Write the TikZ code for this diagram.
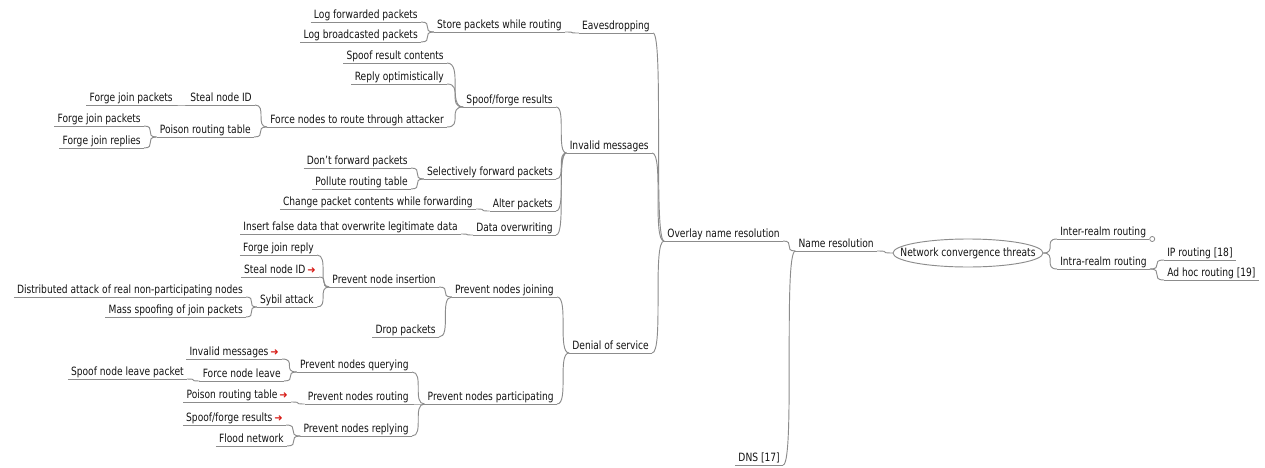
\documentclass[tikz,border=0pt]{standalone}
\usepackage{fontspec}
\setmainfont[FakeStretch=0.8]{DejaVu Sans}
\newfontfamily\arrowfont{DejaVu Sans}
\definecolor{edgegray}{RGB}{140,140,140}
\definecolor{txt}{RGB}{20,20,20}
\definecolor{linkred}{RGB}{215,25,20}
\newcommand{\lnk}{\,{\arrowfont\fontsize{7.5pt}{8pt}\selectfont\textcolor{linkred}{➜}}}
\tikzset{
  mm/.style={font=\fontsize{8.55pt}{10pt}\selectfont, text=txt, inner xsep=2.25pt, inner ysep=0pt, text height=6.5pt, text depth=2.6pt},
  ln/.style={mm, anchor=south east},
  rn/.style={mm, anchor=south west},
  edge/.style={draw=edgegray, line width=0.7pt},
  fm/.style={to path={.. controls (\tikztotarget |- \tikztostart) and (\tikztostart |- \tikztotarget) .. (\tikztotarget)}},
}
\begin{document}
\begin{tikzpicture}[x=0.75pt, y=-0.75pt]
\useasboundingbox[fill=white] (0,0) rectangle (1265,468);
% root
\node[font=\fontsize{8.55pt}{10pt}\selectfont, text=txt, minimum width=112.5pt, minimum height=21pt, inner sep=0pt] (root) at (968,253) {Network convergence threats};
\draw[edge] (root.center) ellipse [x radius=75, y radius=14];
% right side
\node[rn] (inter) at (1057,239) {Inter-realm routing};
\node[rn] (intra) at (1057,269) {Intra-realm routing};
\node[rn] (ip) at (1164,260) {IP routing [18]};
\node[rn] (adhoc) at (1164,280) {Ad hoc routing [19]};
\node[circle, draw=edgegray, fill=white, line width=0.6pt, inner sep=0pt, minimum size=3.8pt, anchor=west] (fold) at (inter.south east) {};
% left side
\node[ln] (nameres) at (877,251) {Name resolution};
\node[ln] (overlay) at (783,241) {Overlay name resolution};
\node[ln] (dns) at (783,465) {DNS [17]};
\node[ln] (eaves) at (653,33) {Eavesdropping};
\node[ln] (invalid) at (652,153) {Invalid messages};
\node[ln] (dos) at (652,353) {Denial of service};
\node[ln] (store) at (565,32) {Store packets while routing};
\node[ln] (logfwd) at (421,22) {Log forwarded packets};
\node[ln] (logbc) at (421,42) {Log broadcasted packets};
\node[ln] (spoof) at (556,107) {Spoof/forge results};
\node[ln] (spoofres) at (447,63) {Spoof result contents};
\node[ln] (reply) at (447,84) {Reply optimistically};
\node[ln] (force) at (447,127) {Force nodes to route through attacker};
\node[ln] (steal1) at (255,105) {Steal node ID};
\node[ln] (forge1) at (176,105) {Forge join packets};
\node[ln] (poison1) at (254,137) {Poison routing table};
\node[ln] (forge2) at (144,126) {Forge join packets};
\node[ln] (forgerep) at (144,148) {Forge join replies};
\node[ln] (selfwd) at (556,179) {Selectively forward packets};
\node[ln] (dontfwd) at (411,168) {Don't forward packets};
\node[ln] (pollute) at (411,189) {Pollute routing table};
\node[ln] (alter) at (556,211) {Alter packets};
\node[ln] (change) at (476,209) {Change packet contents while forwarding};
\node[ln] (dataover) at (556,235) {Data overwriting};
\node[ln] (insert) at (461,234) {Insert false data that overwrite legitimate data};
\node[ln] (join) at (557,297) {Prevent nodes joining};
\node[ln] (insertion) at (439,287) {Prevent node insertion};
\node[ln] (forgereply) at (317,255) {Forge join reply};
\node[ln] (steal2) at (319,277) {Steal node ID\lnk};
\node[ln] (sybil) at (317,307) {Sybil attack};
\node[ln] (distrib) at (246,297) {Distributed attack of real non-participating nodes};
\node[ln] (mass) at (246,317) {Mass spoofing of join packets};
\node[ln] (drop) at (439,337) {Drop packets};
\node[ln] (particip) at (557,404) {Prevent nodes participating};
\node[ln] (querying) at (412,372) {Prevent nodes querying};
\node[ln] (invmsg2) at (282,359) {Invalid messages\lnk};
\node[ln] (forceleave) at (284,381) {Force node leave};
\node[ln] (spoofleave) at (187,379) {Spoof node leave packet};
\node[ln] (routing) at (412,404) {Prevent nodes routing};
\node[ln] (poison2) at (291,402) {Poison routing table\lnk};
\node[ln] (replying) at (412,436) {Prevent nodes replying};
\node[ln] (spoofres2) at (286,425) {Spoof/forge results\lnk};
\node[ln] (flood) at (287,446) {Flood network};
% underlines
\foreach \n in {inter,intra,ip,adhoc,nameres,overlay,dns,eaves,invalid,dos,store,logfwd,logbc,spoof,spoofres,reply,force,steal1,forge1,poison1,forge2,forgerep,selfwd,dontfwd,pollute,alter,change,dataover,insert,join,insertion,forgereply,steal2,sybil,distrib,mass,drop,particip,querying,invmsg2,forceleave,spoofleave,routing,poison2,replying,spoofres2,flood}
  \draw[edge] (\n.south west) -- (\n.south east);
% connectors, left side (child -> parent)
\foreach \c/\p in {overlay/nameres,dns/nameres,eaves/overlay,invalid/overlay,dos/overlay,store/eaves,logfwd/store,logbc/store,spoof/invalid,selfwd/invalid,alter/invalid,dataover/invalid,spoofres/spoof,reply/spoof,force/spoof,steal1/force,poison1/force,forge1/steal1,forge2/poison1,forgerep/poison1,dontfwd/selfwd,pollute/selfwd,change/alter,insert/dataover,join/dos,particip/dos,insertion/join,drop/join,forgereply/insertion,steal2/insertion,sybil/insertion,distrib/sybil,mass/sybil,querying/particip,routing/particip,replying/particip,invmsg2/querying,forceleave/querying,spoofleave/forceleave,poison2/routing,spoofres2/replying,flood/replying}
  \draw[edge] (\c.south east) to[fm] (\p.south west);
\draw[edge] (nameres.south east) to[fm] (root.west);
% right side
\draw[edge] (root.east) to[fm] (inter.south west);
\draw[edge] (root.east) to[fm] (intra.south west);
\draw[edge] (intra.south east) to[fm] (ip.south west);
\draw[edge] (intra.south east) to[fm] (adhoc.south west);
\end{tikzpicture}
\end{document}
